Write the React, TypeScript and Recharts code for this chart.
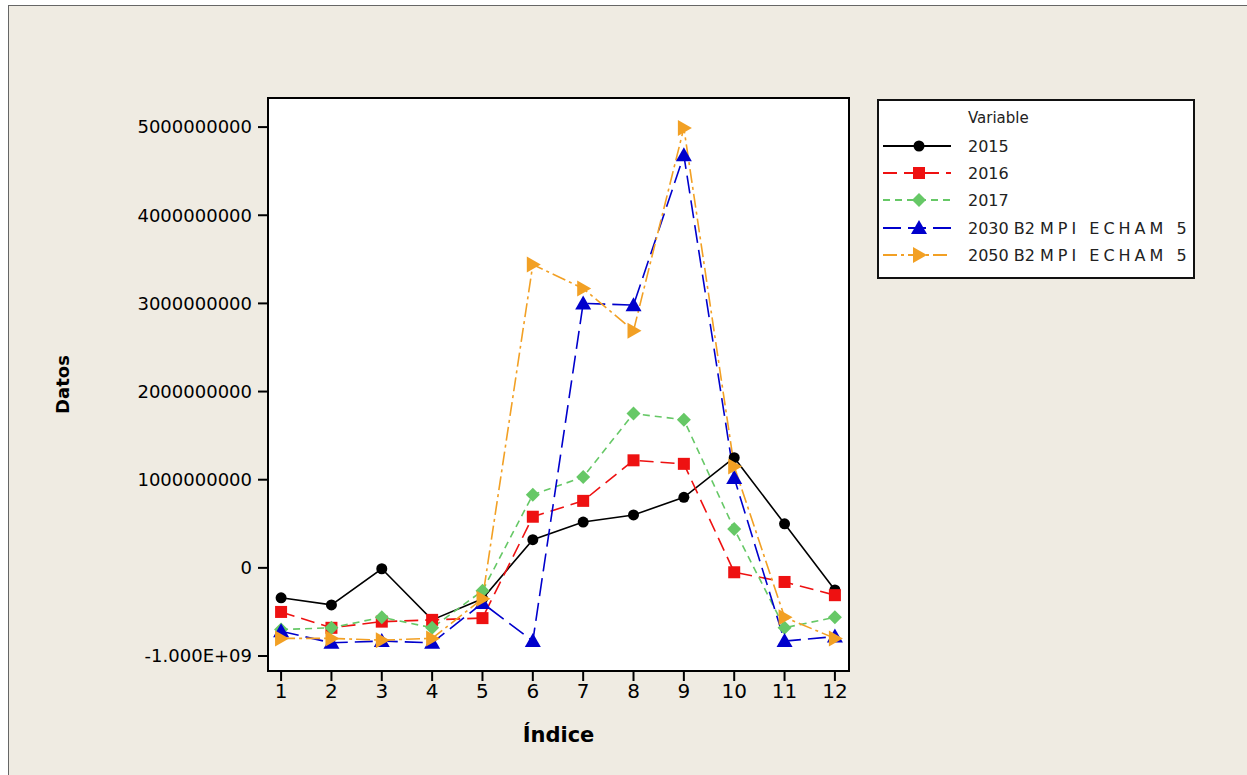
import React from 'react';
import { LineChart, Line, XAxis, YAxis, CartesianGrid, ReferenceArea } from 'recharts';

const INDICES = [1, 2, 3, 4, 5, 6, 7, 8, 9, 10, 11, 12];
const S2015 = [-0.34e9, -0.42e9, -0.01e9, -0.59e9, -0.35e9, 0.32e9, 0.52e9, 0.6e9, 0.8e9, 1.25e9, 0.5e9, -0.25e9];
const S2016 = [-0.5e9, -0.68e9, -0.61e9, -0.59e9, -0.57e9, 0.58e9, 0.76e9, 1.22e9, 1.18e9, -0.05e9, -0.16e9, -0.31e9];
const S2017 = [-0.7e9, -0.68e9, -0.56e9, -0.68e9, -0.26e9, 0.83e9, 1.03e9, 1.75e9, 1.68e9, 0.44e9, -0.68e9, -0.56e9];
const S2030 = [-0.72e9, -0.85e9, -0.83e9, -0.85e9, -0.4e9, -0.83e9, 3.0e9, 2.98e9, 4.68e9, 1.02e9, -0.83e9, -0.78e9];
const S2050 = [-0.8e9, -0.8e9, -0.82e9, -0.8e9, -0.35e9, 3.44e9, 3.17e9, 2.69e9, 4.99e9, 1.15e9, -0.56e9, -0.8e9];
const Y_TICKS = [-1e9, 0, 1e9, 2e9, 3e9, 4e9, 5e9];
const SERIES_NAMES = ['2015', '2016', '2017', '2030 B2 MPI ECHAM 5', '2050 B2 MPI ECHAM 5'];

const data = INDICES.map((idx, i) => ({
  idx,
  s2015: S2015[i],
  s2016: S2016[i],
  s2017: S2017[i],
  s2030: S2030[i],
  s2050: S2050[i],
}));

const FONT = '"DejaVu Sans", Verdana, sans-serif';
const X_DOMAIN = [0.74, 12.28];
const Y_DOMAIN = [-1.17e9, 5.33e9];

const COLORS = ['#000000', '#ee1111', '#66c866', '#0000cc', '#f2a024'];
const DASHES = [undefined, '14 7', '7 5', '18 7', '14 4 3 4'];

type Shape = 'circle' | 'square' | 'diamond' | 'up' | 'right';
const SHAPES: Shape[] = ['circle', 'square', 'diamond', 'up', 'right'];

const marker = (shape: Shape, cx: number, cy: number, color: string, key?: string) => {
  switch (shape) {
    case 'circle':
      return <circle key={key} cx={cx} cy={cy} r={5.5} fill={color} />;
    case 'square':
      return <rect key={key} x={cx - 6} y={cy - 6} width={12} height={12} fill={color} />;
    case 'diamond':
      return <polygon key={key} points={`${cx},${cy - 7} ${cx + 7},${cy} ${cx},${cy + 7} ${cx - 7},${cy}`} fill={color} />;
    case 'up':
      return <polygon key={key} points={`${cx},${cy - 8} ${cx + 8},${cy + 6} ${cx - 8},${cy + 6}`} fill={color} />;
    default:
      return <polygon key={key} points={`${cx - 6},${cy - 8} ${cx + 8},${cy} ${cx - 6},${cy + 8}`} fill={color} />;
  }
};

const dotFor = (i: number) => (p: any) => marker(SHAPES[i], p.cx, p.cy, COLORS[i], `d${i}-${p.index}`);

const fmtY = (v: number) => (v === -1e9 ? '-1.000E+09' : String(v));

// legend names: first part normal, the model name spaced out like the original
const legendLabel = (name: string) => {
  const cut = name.indexOf('MPI');
  if (cut < 0) return name;
  return (
    <>
      <tspan>{name.slice(0, cut)}</tspan>
      <tspan letterSpacing={4}>{name.slice(cut)}</tspan>
    </>
  );
};

const LegendBox = () => {
  const rows = [145, 172, 199, 227, 254];
  return (
    <div style={{ position: 'absolute', left: 876, top: 98, width: 318, height: 180, boxSizing: 'border-box', border: '2px solid #111', background: '#fff' }}>
      <svg width={314} height={176} style={{ display: 'block' }}>
        <text x={89} y={22} fontSize={15} fontFamily={FONT} fill="#222">Variable</text>
        {SERIES_NAMES.map((name, i) => {
          const y = rows[i] - 100;
          return (
            <g key={name}>
              <line x1={4} x2={72} y1={y} y2={y} stroke={COLORS[i]} strokeWidth={2} strokeDasharray={DASHES[i]} />
              {marker(SHAPES[i], 40, y, COLORS[i])}
              <text x={89} y={y + 6} fontSize={16} fontFamily={FONT} fill="#222">{legendLabel(name)}</text>
            </g>
          );
        })}
      </svg>
    </div>
  );
};

const App: React.FC = () => {
  const keys = ['s2015', 's2016', 's2017', 's2030', 's2050'];
  return (
    <div style={{ position: 'absolute', left: 8, top: 5, width: 1239, height: 770, background: '#efebe2', borderLeft: '1px solid #666', borderTop: '1px solid #666', boxSizing: 'border-box' }}>
      <LineChart width={1238} height={769} data={data} margin={{ top: 92, right: 398, left: 19, bottom: 27 }}>
        <CartesianGrid fill="#ffffff" fillOpacity={1} stroke="none" vertical={false} horizontal={false} />
        <XAxis
          dataKey="idx"
          type="number"
          domain={X_DOMAIN}
          ticks={INDICES}
          allowDataOverflow
          height={77}
          tickSize={10}
          tickMargin={3}
          axisLine={{ stroke: '#000', strokeWidth: 2 }}
          tickLine={{ stroke: '#000', strokeWidth: 2 }}
          tick={{ fill: '#000', fontSize: 20, fontFamily: FONT }}
          label={{ value: 'Índice', position: 'insideBottom', offset: 6, style: { fontSize: 21, fontWeight: 'bold', fontFamily: FONT, fill: '#000' } }}
        />
        <YAxis
          type="number"
          domain={Y_DOMAIN}
          ticks={Y_TICKS}
          allowDataOverflow
          width={240}
          tickSize={10}
          tickMargin={6}
          tickFormatter={fmtY}
          axisLine={{ stroke: '#000', strokeWidth: 2 }}
          tickLine={{ stroke: '#000', strokeWidth: 2 }}
          tick={{ fill: '#000', fontSize: 18, fontFamily: FONT }}
          label={{ value: 'Datos', angle: -90, position: 'insideLeft', offset: 35, style: { textAnchor: 'middle', fontSize: 18, fontWeight: 'bold', fontFamily: FONT, fill: '#000' } }}
        />
        <ReferenceArea x1={X_DOMAIN[0]} x2={X_DOMAIN[1]} y1={Y_DOMAIN[0]} y2={Y_DOMAIN[1]} fill="none" stroke="#000" strokeWidth={2} ifOverflow="extendDomain" />
        {keys.map((k, i) => (
          <Line
            key={k}
            dataKey={k}
            name={SERIES_NAMES[i]}
            stroke={COLORS[i]}
            strokeWidth={1.6}
            strokeDasharray={DASHES[i]}
            dot={dotFor(i)}
            activeDot={false}
            isAnimationActive={false}
          />
        ))}
      </LineChart>
      <div style={{ position: 'absolute', left: -8, top: -5 }}>
        <LegendBox />
      </div>
    </div>
  );
};

export default App;
